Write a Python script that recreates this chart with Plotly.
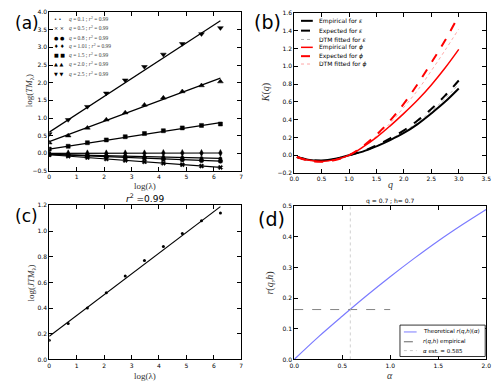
import plotly.graph_objects as go

# page body has an 8px margin, so the figure is drawn 8px smaller and shifted
OFF = 8
W, H = 500 - OFF, 386 - OFF

# ---- (a) log(TM) against log(lambda) for several moments q
log_lambda = [0.0, 0.69, 1.39, 2.08, 2.77, 3.47, 4.16, 4.85, 5.55, 6.24]
q_labels = ["0.1", "0.5", "0.8", "1.01", "1.5", "2.0", "2.5"]
tm_q01 = [-0.03, -0.04, -0.05, -0.06, -0.07, -0.09, -0.10, -0.11, -0.13, -0.14]
tm_q05 = [-0.04, -0.08, -0.12, -0.16, -0.20, -0.24, -0.28, -0.32, -0.36, -0.40]
tm_q08 = [-0.03, -0.05, -0.07, -0.09, -0.11, -0.13, -0.16, -0.18, -0.20, -0.22]
tm_q101 = [0.00, 0.00, 0.00, 0.00, 0.00, 0.00, 0.01, 0.01, 0.01, 0.01]
tm_q15 = [0.12, 0.20, 0.30, 0.38, 0.47, 0.56, 0.64, 0.72, 0.79, 0.83]
tm_q20 = [0.30, 0.50, 0.72, 0.95, 1.15, 1.37, 1.57, 1.75, 1.92, 2.03]
tm_q25 = [0.55, 0.95, 1.32, 1.70, 2.07, 2.45, 2.80, 3.10, 3.38, 3.55]
fit_start = [-0.03, -0.04, -0.03, 0.00, 0.12, 0.33, 0.60]
fit_end = [-0.14, -0.40, -0.22, 0.01, 0.87, 2.13, 3.75]
r2_a = ["0.99"] * 7

# ---- (b) moment scaling function K(q)
q_grid = [0.05, 0.25, 0.5, 0.75, 1.0, 1.25, 1.5, 1.75, 2.0, 2.25, 2.5, 2.75, 3.0]
k_emp_eps = [-0.02, -0.05, -0.06, -0.04, 0.0, 0.04, 0.10, 0.17, 0.25, 0.35, 0.47, 0.60, 0.75]
k_exp_eps = [-0.02, -0.05, -0.065, -0.045, 0.0, 0.045, 0.11, 0.19, 0.28, 0.39, 0.52, 0.67, 0.84]
k_dtm_eps = [-0.02, -0.05, -0.063, -0.043, 0.0, 0.043, 0.105, 0.18, 0.265, 0.37, 0.495, 0.635, 0.80]
k_emp_phi = [-0.02, -0.055, -0.07, -0.05, 0.0, 0.09, 0.20, 0.33, 0.47, 0.62, 0.79, 0.98, 1.19]
k_exp_phi = [-0.02, -0.06, -0.075, -0.055, 0.0, 0.10, 0.23, 0.39, 0.58, 0.80, 1.04, 1.29, 1.57]
k_dtm_phi = [-0.02, -0.058, -0.072, -0.052, 0.0, 0.095, 0.215, 0.36, 0.54, 0.73, 0.95, 1.18, 1.42]

# ---- (c) log(JTM) against log(lambda)
jtm = [0.15, 0.28, 0.40, 0.52, 0.65, 0.77, 0.88, 0.98, 1.08, 1.14]
jtm_fit = [0.18, 1.19]

# ---- (d) theoretical r(q,h) against alpha
alpha_grid = [0.0, 0.25, 0.5, 0.75, 1.0, 1.25, 1.5, 1.75, 2.0]
r_theory = [0.0, 0.073, 0.141, 0.207, 0.270, 0.330, 0.387, 0.440, 0.490]
r_empirical = 0.163
alpha_est = 0.585


def px(x, y):
    # window pixel -> paper coordinates
    return (x - OFF) / W, 1 - (y - OFF) / H


def xdom(a, b):
    return [px(a, 0)[0], px(b, 0)[0]]


def ydom(top, bottom):
    return [px(0, bottom)[1], min(1.0, px(0, top)[1])]


fig = go.Figure()

# (a)
tm_series = [tm_q01, tm_q05, tm_q08, tm_q101, tm_q15, tm_q20, tm_q25]
symbols = ["circle", "x", "circle", "diamond-tall", "square", "triangle-up", "triangle-down"]
sizes = [3, 4, 4.5, 5, 4, 5, 5]
for i, series in enumerate(tm_series):
    fig.add_trace(go.Scatter(x=[log_lambda[0], log_lambda[-1]], y=[fit_start[i], fit_end[i]],
                             mode="lines", line=dict(color="black", width=1.2),
                             xaxis="x", yaxis="y", showlegend=False))
    fig.add_trace(go.Scatter(x=log_lambda, y=series, mode="markers",
                             marker=dict(symbol=symbols[i], size=sizes[i], color="black",
                                         line=dict(width=0.5, color="black")),
                             xaxis="x", yaxis="y", showlegend=False))

# (b)
b_styles = [
    (k_emp_eps, "black", "solid", 2),
    (k_exp_eps, "black", "dash", 2),
    (k_dtm_eps, "rgba(0,0,0,0.3)", "dot", 1),
    (k_emp_phi, "red", "solid", 1.5),
    (k_exp_phi, "red", "dash", 2),
    (k_dtm_phi, "rgba(255,0,0,0.35)", "dot", 1),
]
for vals, col, dash, w in b_styles:
    fig.add_trace(go.Scatter(x=q_grid, y=vals, mode="lines", line=dict(color=col, dash=dash, width=w, shape="spline"),
                             xaxis="x2", yaxis="y2", showlegend=False))

# (c)
fig.add_trace(go.Scatter(x=[log_lambda[0], log_lambda[-1]], y=jtm_fit, mode="lines",
                         line=dict(color="black", width=1.2), xaxis="x3", yaxis="y3", showlegend=False))
fig.add_trace(go.Scatter(x=log_lambda, y=jtm, mode="markers", marker=dict(size=3, color="black"),
                         xaxis="x3", yaxis="y3", showlegend=False))

# (d)
fig.add_trace(go.Scatter(x=alpha_grid, y=r_theory, mode="lines", line=dict(color="#7b7bff", width=1.2, shape="spline"),
                         xaxis="x4", yaxis="y4", showlegend=False))
fig.add_trace(go.Scatter(x=[0, 1.0], y=[r_empirical, r_empirical], mode="lines",
                         line=dict(color="#666666", width=0.8, dash="dash"), xaxis="x4", yaxis="y4", showlegend=False))
fig.add_trace(go.Scatter(x=[alpha_est, alpha_est], y=[0, 0.5], mode="lines",
                         line=dict(color="#c4c4c4", width=0.8, dash="dot"), xaxis="x4", yaxis="y4", showlegend=False))

tickfont = dict(family="DejaVu Sans", size=6, color="black")


def ax(domain, rng, dtick, fmt, anchor):
    return dict(domain=domain, range=rng, dtick=dtick, tick0=0, tickformat=fmt, anchor=anchor,
                showline=True, linecolor="black", linewidth=1, mirror="ticks", ticks="inside",
                ticklen=4, tickcolor="black", showgrid=False, zeroline=False, tickfont=tickfont)


left = xdom(45, 241)
right = xdom(295, 491)
fig.update_layout(
    width=W, height=H, margin=dict(l=0, r=0, t=0, b=0),
    plot_bgcolor="white", paper_bgcolor="white", showlegend=False,
    xaxis=ax(left, [0, 7], 1, "d", "y"),
    yaxis=ax(ydom(8, 170), [-0.5, 4.0], 0.5, ".1f", "x"),
    xaxis2=ax(right, [0, 3.5], 0.5, ".1f", "y2"),
    yaxis2=ax(ydom(9, 172), [-0.2, 1.6], 0.2, ".1f", "x2"),
    xaxis3=ax(left, [0, 7], 1, "d", "y3"),
    yaxis3=ax(ydom(205, 362), [0, 1.2], 0.2, ".1f", "x3"),
    xaxis4=ax(right, [0, 2.0], 0.5, ".1f", "y4"),
    yaxis4=ax(ydom(206, 362), [0, 0.5], 0.1, ".1f", "x4"),
)

ann = []
shapes = []


def note(x, y, text, size=6, family="DejaVu Sans", color="black", xanchor="center", angle=0):
    xx, yy = px(x, y)
    ann.append(dict(x=xx, y=yy, xref="paper", yref="paper", text=text, showarrow=False,
                    xanchor=xanchor, yanchor="middle", textangle=angle,
                    font=dict(size=size, family=family, color=color)))


serif = "Liberation Serif"
# panel letters
note(OFF, 19, "(a)", size=17, xanchor="left")
note(252, 18, "(b)", size=19, xanchor="left")
note(OFF, 216, "(c)", size=17, xanchor="left")
note(256, 219, "(d)", size=19, xanchor="left")

# axis labels
note(143, 185, "log(λ)", size=9, family=serif, color="#333")
note(25, 88, "log(<i>TM</i><sub>λ</sub>)", size=9, family=serif, color="#333", angle=-90)
note(393, 184, "<i>q</i>", size=10, family=serif, color="#333")
note(267, 90, "<i>K</i>(<i>q</i>)", size=10, family=serif, color="#333", angle=-90)
note(143, 379, "log(λ)", size=9, family=serif, color="#333")
note(27, 284, "log(<i>JTM</i><sub>λ</sub>)", size=9, family=serif, color="#333", angle=-90)
note(393, 378, "<i>α</i>", size=10, family=serif, color="#333")
note(270, 284, "<i>r</i>(<i>q</i>,<i>h</i>)", size=10, family=serif, color="#333", angle=-90)

# titles
note(143, 198, "<i>r</i><sup>2</sup> =0.99", size=9, family="DejaVu Sans")
note(393, 201, "q = 0.7 ; h= 0.7", size=6)

# legend (a)
glyphs = ["•", "×", "●", "♦", "■", "▲", "▼"]
rows_a = [15, 24, 34, 43, 52, 61, 71]
for g, y, q, r2 in zip(glyphs, rows_a, q_labels, r2_a):
    note(48, y, g + " " + g, size=5, xanchor="left")
    note(63, y, "<i>q</i> = " + q + " ; <i>r</i><sup>2</sup> = " + r2, size=5.5, family=serif,
         color="#444", xanchor="left")


def swatch(x0, x1, y, color, dash, width):
    a, b = px(x0, y)
    c, _ = px(x1, y)
    shapes.append(dict(type="line", xref="paper", yref="paper", x0=a, x1=c, y0=b, y1=b,
                       line=dict(color=color, dash=dash, width=width)))


# legend (b)
b_labels = ["Empirical for <i>ε</i>", "Expected for <i>ε</i>", "DTM fitted for <i>ε</i>",
            "Empirical for <i>ϕ</i>", "Expected for <i>ϕ</i>", "DTM fitted for <i>ϕ</i>"]
rows_b = [17, 27, 36, 44, 53, 61]
for (vals, col, dash, w), lab, y in zip(b_styles, b_labels, rows_b):
    swatch(302, 314, y, col, dash, w)
    note(318, y, lab, size=6, xanchor="left")

# legend (d)
x0, y0 = px(403, 327)
x1, y1 = px(490, 359)
shapes.append(dict(type="rect", xref="paper", yref="paper", x0=x0, x1=x1, y0=y1, y1=y0,
                   line=dict(color="black", width=0.8), fillcolor="white", layer="above"))
d_legend = [("#7b7bff", "solid", "Theoretical <i>r</i>(<i>q</i>,<i>h</i>)(<i>α</i>)"),
            ("#666666", "dash", "<i>r</i>(<i>q</i>,<i>h</i>) empirical"),
            ("#c4c4c4", "dot", "<i>α</i> est. = 0.585")]
for (col, dash, lab), y in zip(d_legend, [334, 344, 353]):
    swatch(407, 420, y, col, dash, 1)
    note(424, y, lab, size=5.5, xanchor="left")

fig.update_layout(annotations=ann, shapes=shapes)
fig.write_html("out.html")
